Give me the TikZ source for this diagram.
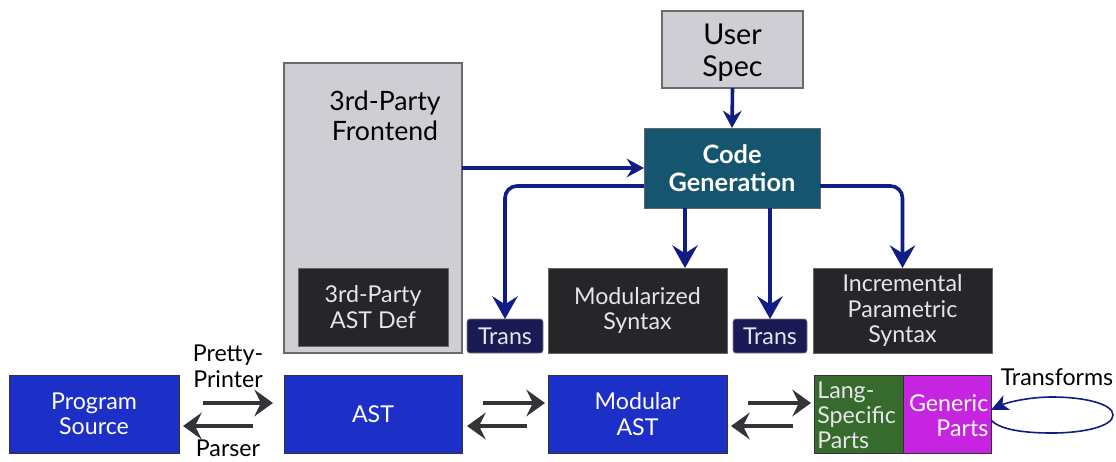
\documentclass[tikz,border=0pt]{standalone}
\usepackage{fontspec}
\setmainfont{Lato}
\usetikzlibrary{arrows.meta,calc}

\definecolor{boxgray}{HTML}{CFCED4}
\definecolor{edgegray}{HTML}{6A6A6A}
\definecolor{cgteal}{HTML}{165570}
\definecolor{darkbox}{HTML}{262629}
\definecolor{transnavy}{HTML}{1C1A55}
\definecolor{astblue}{HTML}{1C2FC6}
\definecolor{langgreen}{HTML}{376A2D}
\definecolor{genmagenta}{HTML}{C724E2}
\definecolor{flowblue}{HTML}{121C85}
\definecolor{flowgray}{HTML}{333438}
\definecolor{lighttext}{HTML}{E6E6EA}

\tikzset{
  base/.style={inner sep=0pt, outer sep=0pt, align=center,
    font=\fontsize{17.4}{18.9}\selectfont},
  graybox/.style={base, fill=boxgray, draw=edgegray, line width=0.9pt},
  darkblock/.style={base, fill=darkbox, draw=black!60, line width=0.6pt, text=lighttext},
  transbox/.style={base, fill=transnavy, draw=black!50, line width=0.6pt,
    rounded corners=2pt, text=lighttext},
  bluebox/.style={base, fill=astblue, draw=black!80, line width=0.6pt, text=white},
  flow/.style={draw=flowblue, line width=2.7pt,
    -{Stealth[length=17pt,width=19pt,inset=6pt]}},
  flowsmall/.style={draw=flowblue, line width=2.7pt,
    -{Stealth[length=13pt,width=14pt,inset=4.5pt]}},
  conv/.style={draw=flowgray, line width=2.6pt,
    -{Stealth[length=14pt,width=20pt,inset=5pt]}},
  lbl/.style={inner sep=0pt, align=center, font=\fontsize{17.4}{19.5}\selectfont},
}

\begin{document}
\begin{tikzpicture}[x=0.75pt, y=-0.75pt]
\useasboundingbox (0,0) rectangle (1116,461);

% upper half: generator and its inputs
\node[graybox, minimum width=105.75pt, minimum height=57.75pt] (us) at (732.5,49.5) {};
\node[base, font=\fontsize{21.5}{23.5}\selectfont] (ustext) at ([yshift=-2.5pt]us.center) {User\\Spec};
\node[base, fill=cgteal, draw=black!60, line width=0.6pt, text=white,
      minimum width=132pt, minimum height=60pt,
      font=\fontsize{19}{21}\bfseries\selectfont] (cg) at (732,168) {Code\\Generation};
\node[graybox, minimum width=133.5pt, minimum height=217.5pt] (fe) at (373,208) {};
\node[base, font=\fontsize{20}{22.5}\selectfont, anchor=center] (fetext) at (385,116) {3rd-Party\\Frontend};
\node[darkblock, minimum width=112.5pt, minimum height=58.5pt] (astdef) at (373,307) {3rd-Party\\AST Def};

% generated artefacts
\node[transbox, minimum width=57pt, minimum height=25.5pt] (t1) at (505,336) {Trans};
\node[darkblock, minimum width=134.25pt, minimum height=63.75pt] (ms) at (637.5,310.5) {Modularized\\Syntax};
\node[transbox, minimum width=55.5pt, minimum height=25.5pt] (t2) at (770,336) {Trans};
\node[darkblock, minimum width=134.25pt, minimum height=63.75pt] (inc) at (902.5,310.5) {Incremental\\Parametric\\Syntax};

% lower row: representations
\node[bluebox, minimum width=127.5pt, minimum height=58.5pt] (ps) at (94,414) {Program\\Source};
\node[bluebox, minimum width=133.5pt, minimum height=58.5pt] (ast) at (373,414) {AST};
\node[bluebox, minimum width=134.25pt, minimum height=58.5pt] (mast) at (637.5,414) {Modular\\AST};
\node[base, fill=langgreen, draw=black!80, line width=0.6pt,
      minimum width=66.75pt, minimum height=58.5pt] (lang) at (858.5,414) {};
\node[base, fill=genmagenta, draw=black!80, line width=0.6pt,
      minimum width=66pt, minimum height=58.5pt] (gen) at (947,414) {};
\node[base, anchor=west, align=left, text=lighttext] (langtext) at ([xshift=2.5pt,yshift=-1pt]lang.west) {Lang-\\Specific\\Parts};
\node[base, anchor=east, align=right, text=white] (gentext) at ([xshift=-2pt,yshift=-1pt]gen.east) {Generic\\Parts};

% generator connections
\draw[flowsmall] (us.south) -- (cg.north);
\draw[flowsmall] (fe.east |- cg.west) -- (cg.west);
\draw[flow, rounded corners=9pt] ([yshift=-13.5pt]cg.west) -| (t1.north);
\draw[flow, rounded corners=9pt] ([yshift=-13.5pt]cg.east) -| (inc.north);
\draw[flow] ([xshift=-35.25pt]cg.south) -- ([xshift=-35.25pt]cg.south |- ms.north);
\draw[flow] (t2.north |- cg.south) -- (t2.north);

% conversions between representations
\draw[conv] ([shift={(24,-11)}]ps.east) -- ([shift={(-11,-11)}]ast.west);
\draw[conv] ([shift={(-31,12)}]ast.west) -- ([shift={(4,12)}]ps.east);
\draw[conv] ([shift={(21,-11)}]ast.east) -- ([shift={(-3,-11)}]mast.west);
\draw[conv] ([shift={(-21,12)}]mast.west) -- ([shift={(5,12)}]ast.east);
\draw[conv] ([shift={(21,-11)}]mast.east) -- ([shift={(-3,-11)}]lang.west);
\draw[conv] ([shift={(-21,12)}]lang.west) -- ([shift={(4,12)}]mast.east);

\node[lbl] (pp) at (228,366) {Pretty-\\Printer};
\node[lbl] (parser) at (228,448) {Parser};

% self loop on the generic parts
\coordinate (loopR) at (1113,415);
\draw[draw=flowblue, line width=1.2pt, -{Stealth[length=13pt,width=12pt,inset=3.5pt]}]
  ([yshift=-4.5pt]gen.east) .. controls (1000,430) and (1025,433) .. (1052,433)
  .. controls (1085,433) and (1113,426) .. (loopR)
  .. controls (1113,404) and (1085,397) .. (1052,397)
  .. controls (1030,397) and (1008,402) .. ([yshift=3pt]gen.east);
\node[lbl, anchor=center] (tf) at (1057,377) {Transforms};
\end{tikzpicture}
\end{document}
